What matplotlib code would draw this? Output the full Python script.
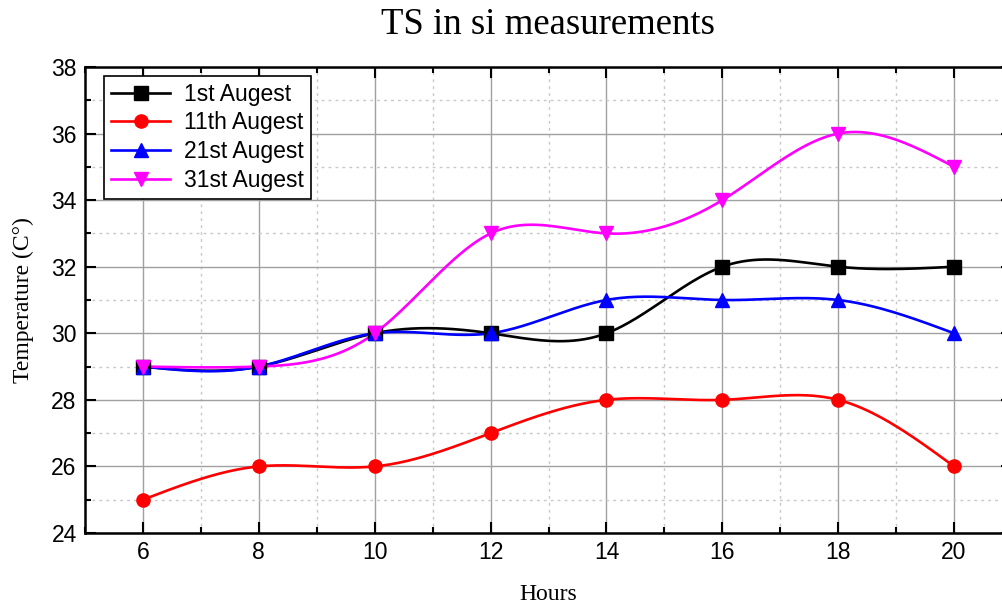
import numpy as np
import matplotlib
matplotlib.use("Agg")
import matplotlib.pyplot as plt
from matplotlib.ticker import MultipleLocator

hours = [6, 8, 10, 12, 14, 16, 18, 20]
aug_1 = [29, 29, 30, 30, 30, 32, 32, 32]
aug_11 = [25, 26, 26, 27, 28, 28, 28, 26]
aug_21 = [29, 29, 30, 30, 31, 31, 31, 30]
aug_31 = [29, 29, 30, 33, 33, 34, 36, 35]
labels = ['1st Augest', '11th Augest', '21st Augest', '31st Augest']


def spline(x, y, n=300):
    # natural cubic spline through the points
    x = np.asarray(x, float)
    y = np.asarray(y, float)
    k = len(x)
    h = np.diff(x)
    A = np.zeros((k, k))
    b = np.zeros(k)
    A[0, 0] = 1
    A[-1, -1] = 1
    for i in range(1, k - 1):
        A[i, i - 1] = h[i - 1]
        A[i, i] = 2 * (h[i - 1] + h[i])
        A[i, i + 1] = h[i]
        b[i] = 3 * ((y[i + 1] - y[i]) / h[i] - (y[i] - y[i - 1]) / h[i - 1])
    c = np.linalg.solve(A, b)
    xs = np.linspace(x[0], x[-1], n)
    idx = np.clip(np.searchsorted(x, xs) - 1, 0, k - 2)
    dx = xs - x[idx]
    hi = h[idx]
    bb = (y[idx + 1] - y[idx]) / hi - hi * (2 * c[idx] + c[idx + 1]) / 3
    d = (c[idx + 1] - c[idx]) / (3 * hi)
    ys = y[idx] + bb * dx + c[idx] * dx ** 2 + d * dx ** 3
    return xs, ys


fig = plt.figure(figsize=(10.03, 6.07), dpi=100)
ax = fig.add_axes([85 / 1003, 1 - 533 / 607, (1012 - 85) / 1003, (533 - 67) / 607])

series = [aug_1, aug_11, aug_21, aug_31]
colors = ['black', 'red', 'blue', 'magenta']
markers = ['s', 'o', '^', 'v']
for vals, col, mk, lab in zip(series, colors, markers, labels):
    xs, ys = spline(hours, vals)
    ax.plot(xs, ys, color=col, lw=1.9, zorder=3)
    ax.plot(hours, vals, ls='none', marker=mk, color=col, ms=9.5, zorder=4)
    ax.plot([], [], color=col, lw=1.9, marker=mk, ms=9.5, label=lab)

ax.set_xlim(5, 21)
ax.set_ylim(24, 38)
ax.xaxis.set_major_locator(MultipleLocator(2))
ax.xaxis.set_minor_locator(MultipleLocator(1))
ax.yaxis.set_major_locator(MultipleLocator(2))
ax.yaxis.set_minor_locator(MultipleLocator(1))
ax.grid(which='major', color='#a0a0a0', lw=1)
ax.grid(which='minor', color='#c8c8c8', lw=1, ls=(0, (2, 3)))
ax.set_axisbelow(True)
ax.tick_params(which='both', direction='in', top=True, right=True, width=1.5,
               labelsize=16.5, labelfontfamily='Liberation Sans', pad=6)
ax.tick_params(which='major', length=8)
ax.tick_params(which='minor', length=4)
for s in ax.spines.values():
    s.set_linewidth(1.8)

ax.set_title('TS in si measurements', fontsize=26.5, family='Liberation Serif', pad=24)
ax.set_xlabel('Hours', fontsize=17, family='Liberation Serif', labelpad=14)
ax.set_ylabel('Temperature (C°)', fontsize=17, family='Liberation Serif', labelpad=12)

leg = ax.legend(loc='upper left', bbox_to_anchor=(0.0205, 0.981), borderaxespad=0,
                fancybox=False, edgecolor='black', framealpha=1, borderpad=0.3,
                labelspacing=0.25, handlelength=2.6, handletextpad=0.6,
                prop={'family': 'Liberation Sans', 'size': 16.5})
leg.get_frame().set_linewidth(1.2)

plt.savefig('out.png', dpi=100)
